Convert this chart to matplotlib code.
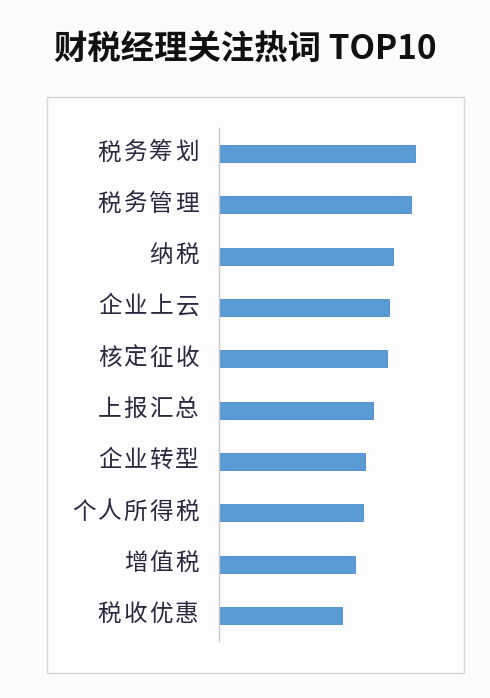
import matplotlib
matplotlib.use("Agg")
import matplotlib.pyplot as plt
from matplotlib.patches import Rectangle

categories = ["税务筹划", "税务管理", "纳税", "企业上云", "核定征收",
              "上报汇总", "企业转型", "个人所得税", "增值税", "税收优惠"]
values = [196, 192, 174, 170, 168, 154, 146, 144, 136, 123]
title = "财税经理关注热词 TOP10"

plt.rcParams['font.family'] = ['Noto Sans CJK SC', 'DejaVu Sans']

W, H = 490, 698
fig = plt.figure(figsize=(W / 100, H / 100), dpi=100)
bg = "#fafbfd"
fig.patch.set_facecolor(bg)

# outer frame
frame = Rectangle((47 / W, 1 - 673 / H), (464 - 47) / W, (673 - 97) / H,
                  transform=fig.transFigure, facecolor="#fdfdfe",
                  edgecolor="#d4d6da", linewidth=1.0, zorder=-10)
fig.patches.append(frame)

ax = fig.add_axes([219 / W, 1 - 641 / H, 236 / W, (641 - 128) / H])
ax.set_zorder(5)
ax.set_facecolor("none")
ypos = list(range(len(categories)))
ax.barh(ypos, values, height=0.33, color="#5b9bd5", edgecolor="#4b89c8", linewidth=0.6)
ax.set_ylim(len(categories) - 0.5, -0.5)
ax.set_xlim(0, 236)
ax.set_yticks(ypos)
ax.set_yticklabels([])
ax.tick_params(axis='y', length=0)
ax.set_xticks([])
for s in ["top", "right", "bottom"]:
    ax.spines[s].set_visible(False)
ax.spines["left"].set_color("#c4c6ca")
ax.spines["left"].set_linewidth(1.0)

# letter-spaced category labels
pitch_px = 25.8
end_px = 32  # distance from axis to centre of last character
for y, cat in zip(ypos, categories):
    n = len(cat)
    for k, ch in enumerate(cat):
        off_px = -(end_px + (n - 1 - k) * pitch_px)
        ax.annotate(ch, xy=(0, y), xycoords=('data', 'data'),
                    xytext=(off_px * 0.72, 0.5), textcoords='offset points',
                    ha='center', va='center', fontsize=17, color="#2d2840",
                    annotation_clip=False)

fig.text(245 / W, 1 - 49 / H, title, ha="center", va="center", fontsize=24,
         fontweight="bold", color="#111111",
         family=['Noto Sans CJK SC', 'DejaVu Sans'])

fig.savefig("out.png", dpi=100, facecolor=bg)
